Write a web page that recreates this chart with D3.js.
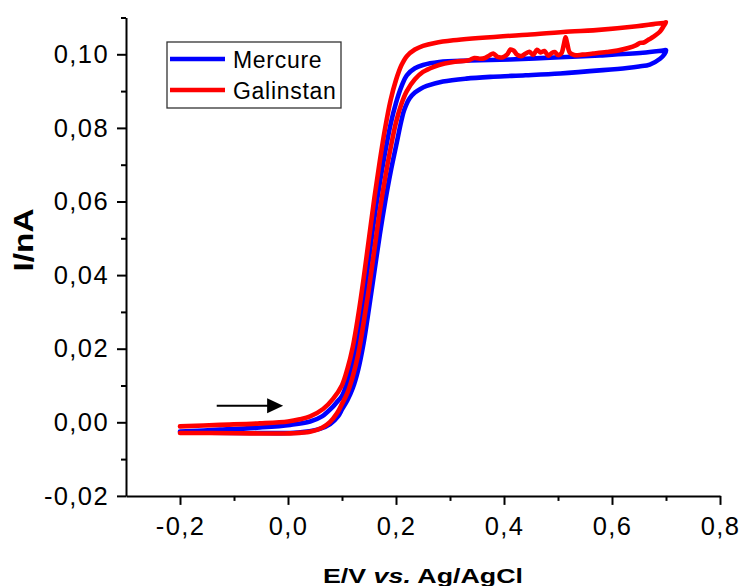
<!DOCTYPE html>
<html>
<head>
<meta charset="utf-8">
<script src="https://cdn.jsdelivr.net/npm/d3@7"></script>
<style>
  html, body { margin: 0; padding: 0; background: #fff; }
  svg { display: block; }
  text { font-family: "Liberation Sans", Arial, sans-serif; fill: #000; }
</style>
</head>
<body>
<svg id="chart" width="742" height="586"></svg>
<script>
// ---------- data (E in V, I in nA) ----------
const mercureForward = [
  [-0.200,-0.0025],[-0.126,-0.0020],[-0.052,-0.0014],[0.004,-0.0007],[0.041,0.0002],
  [0.063,0.0016],[0.081,0.0039],[0.090,0.0054],[0.100,0.0072],[0.110,0.0110],[0.120,0.0160],
  [0.130,0.0235],[0.140,0.0335],[0.150,0.0445],[0.160,0.0555],[0.170,0.0650],
  [0.180,0.0735],[0.190,0.0810],[0.200,0.0868],[0.210,0.0912],[0.220,0.0943],
  [0.235,0.0962],[0.250,0.0971],[0.280,0.0979],[0.337,0.0983],[0.411,0.0986],
  [0.504,0.0992],[0.578,0.0997],[0.657,0.1004],[0.694,0.1010],[0.700,0.1011]
];
const mercureReverse = [
  [0.700,0.1011],[0.697,0.1000],[0.689,0.0988],[0.670,0.0972],[0.650,0.0967],
  [0.628,0.0963],[0.583,0.0957],[0.504,0.0948],[0.440,0.0943],[0.380,0.0939],
  [0.330,0.0934],[0.287,0.0926],[0.257,0.0914],[0.245,0.0906],[0.235,0.0896],
  [0.225,0.0880],[0.215,0.0848],[0.210,0.0820],[0.200,0.0750],[0.190,0.0680],
  [0.180,0.0600],[0.170,0.0510],[0.160,0.0410],[0.150,0.0310],[0.140,0.0215],
  [0.130,0.0143],[0.120,0.0093],[0.110,0.0060],[0.100,0.0035],[0.093,0.0017],
  [0.078,-0.0005],[0.059,-0.0018],[0.031,-0.0026],[0.004,-0.0029],[-0.070,-0.0029],
  [-0.144,-0.0028],[-0.200,-0.0026]
];
const galinstanForward = [
  [-0.200,-0.0011],[-0.126,-0.0007],[-0.052,-0.0003],[0.000,0.0002],[0.022,0.0008],
  [0.041,0.0016],[0.065,0.0036],[0.083,0.0063],[0.100,0.0101],[0.110,0.0145],
  [0.120,0.0205],[0.130,0.0290],[0.140,0.0390],[0.150,0.0500],[0.160,0.0610],
  [0.170,0.0710],[0.180,0.0800],[0.190,0.0875],[0.200,0.0930],[0.210,0.0970],
  [0.220,0.0995],[0.235,0.1013],[0.250,0.1023],[0.272,0.1031],[0.306,0.1038],
  [0.398,0.1049],[0.443,0.1053],[0.522,0.1062],[0.565,0.1065],[0.646,0.1076],
  [0.677,0.1082],[0.698,0.1086],[0.700,0.1087]
];
const galinstanReverse = [
  [0.700,0.1087],[0.695,0.1075],[0.689,0.1062],[0.677,0.1048],[0.668,0.1040],
  [0.659,0.1032],[0.652,0.1031],[0.645,0.1025],[0.630,0.1017],[0.610,0.1010],
  [0.590,0.1006],[0.565,0.1002],[0.545,0.0999],[0.530,0.0998],[0.522,0.1004],
  [0.517,0.1030],[0.514,0.1046],[0.511,0.1028],[0.506,0.1002],[0.500,0.0998],
  [0.494,0.1006],[0.488,0.1003],[0.482,0.0996],[0.475,0.1009],[0.468,0.1005],
  [0.461,0.1012],[0.454,0.0998],[0.447,0.1007],[0.440,0.1002],[0.432,0.0995],
  [0.424,0.0999],[0.418,0.1010],[0.412,0.1013],[0.406,0.1000],[0.398,0.0992],
  [0.388,0.0993],[0.380,0.1002],[0.373,0.0997],[0.365,0.0990],[0.355,0.0988],
  [0.345,0.0990],[0.335,0.0984],[0.310,0.0980],[0.290,0.0975],[0.270,0.0966],
  [0.250,0.0952],[0.235,0.0932],[0.220,0.0900],[0.210,0.0865],[0.200,0.0815],
  [0.190,0.0745],[0.180,0.0665],[0.170,0.0575],[0.160,0.0470],[0.150,0.0365],
  [0.140,0.0270],[0.130,0.0185],[0.120,0.0125],[0.110,0.0080],[0.100,0.0050],
  [0.091,0.0025],[0.078,0.0001],[0.063,-0.0015],[0.041,-0.0026],[0.004,-0.0030],
  [-0.070,-0.0030],[-0.144,-0.0029],[-0.200,-0.0029]
];
const seriesNames = ["Mercure", "Galinstan"];
const seriesColors = ["#0000ff", "#ff0000"];

const xDomain = [-0.3, 0.8];
const yDomain = [-0.02, 0.11];
const xMajorTicks = [-0.2, 0.0, 0.2, 0.4, 0.6, 0.8];
const xMinorTicks = [-0.1, 0.1, 0.3, 0.5, 0.7];
const yMajorTicks = [-0.02, 0.00, 0.02, 0.04, 0.06, 0.08, 0.10];
const yMinorTicks = [-0.01, 0.01, 0.03, 0.05, 0.07, 0.09, 0.11];
const arrowFrom = [-0.132, 0.0045];
const arrowTo = [-0.009, 0.0045];

// ---------- drawing ----------
const svg = d3.select("#chart");
svg.append("rect").attr("width", 742).attr("height", 586).attr("fill", "#fff");

const x = d3.scaleLinear().domain(xDomain).range([126, 720]);
const y = d3.scaleLinear().domain(yDomain).range([495.9, 17.5]);

const fmtX = d => d3.format(".1f")(d).replace(".", ",").replace("−", "-");
const fmtY = d => d3.format(".2f")(d).replace(".", ",").replace("−", "-");

// curves
const line = d3.line().x(d => x(d[0])).y(d => y(d[1])).curve(d3.curveCatmullRom.alpha(0.5));
const loops = [
  mercureForward.concat(mercureReverse.slice(1)),
  galinstanForward.concat(galinstanReverse.slice(1))
];
loops.forEach((pts, i) => {
  svg.append("path")
    .attr("d", line(pts))
    .attr("fill", "none")
    .attr("stroke", seriesColors[i])
    .attr("stroke-width", 4.6)
    .attr("stroke-linejoin", "round")
    .attr("stroke-linecap", "round");
});

// axes
const xAxisG = svg.append("g").attr("transform", `translate(0,${y(yDomain[0])})`);
xAxisG.call(d3.axisBottom(x).tickValues(xMajorTicks).tickSize(9).tickSizeOuter(0).tickPadding(12).tickFormat(fmtX));
const xMinorG = svg.append("g").attr("transform", `translate(0,${y(yDomain[0])})`);
xMinorG.call(d3.axisBottom(x).tickValues(xMinorTicks).tickSize(5).tickFormat(""));
xMinorG.select(".domain").remove();

const yAxisG = svg.append("g").attr("transform", `translate(${x(xDomain[0])},0)`);
yAxisG.call(d3.axisLeft(y).tickValues(yMajorTicks).tickSize(9).tickSizeOuter(0).tickPadding(8).tickFormat(fmtY));
const yMinorG = svg.append("g").attr("transform", `translate(${x(xDomain[0])},0)`);
yMinorG.call(d3.axisLeft(y).tickValues(yMinorTicks).tickSize(5).tickFormat(""));
yMinorG.select(".domain").remove();

svg.selectAll(".domain").attr("stroke", "#000").attr("stroke-width", 2);
svg.selectAll(".tick line").attr("stroke", "#000").attr("stroke-width", 2);
svg.selectAll(".tick text")
  .attr("font-family", "'Liberation Sans', Arial, sans-serif")
  .attr("font-size", 25.5)
  .attr("letter-spacing", "1.4px")
  .attr("fill", "#000");

// axis titles
const xt = svg.append("text")
  .attr("x", 423).attr("y", 582.5)
  .attr("text-anchor", "middle")
  .attr("font-size", 19.5).attr("font-weight", "bold")
  .attr("textLength", 200).attr("lengthAdjust", "spacingAndGlyphs");
xt.append("tspan").text("E/V ");
xt.append("tspan").attr("font-style", "italic").text("vs.");
xt.append("tspan").text(" Ag/AgCl");

svg.append("text")
  .attr("transform", "translate(33,240) rotate(-90)")
  .attr("text-anchor", "middle")
  .attr("font-size", 27).attr("font-weight", "bold")
  .attr("textLength", 63).attr("lengthAdjust", "spacingAndGlyphs")
  .text("I/nA");

// arrow annotation
const ax0 = x(arrowFrom[0]), ax1 = x(arrowTo[0]), ay = y(arrowFrom[1]);
svg.append("line")
  .attr("x1", ax0).attr("x2", ax1 - 14).attr("y1", ay).attr("y2", ay)
  .attr("stroke", "#000").attr("stroke-width", 2);
svg.append("path")
  .attr("d", `M${ax1},${ay} L${ax1 - 16},${ay - 7.5} L${ax1 - 16},${ay + 7.5} Z`)
  .attr("fill", "#000");

// legend
const lg = svg.append("g");
lg.append("rect")
  .attr("x", 167).attr("y", 42).attr("width", 174).attr("height", 66)
  .attr("fill", "#fff").attr("stroke", "#333").attr("stroke-width", 1.3);
seriesNames.forEach((name, i) => {
  const ly = 59 + i * 31;
  lg.append("line")
    .attr("x1", 170).attr("x2", 225).attr("y1", ly).attr("y2", ly)
    .attr("stroke", seriesColors[i]).attr("stroke-width", 4.5);
  lg.append("text")
    .attr("x", 233).attr("y", ly + 9.3)
    .attr("font-size", 23).attr("letter-spacing", "0.7px")
    .text(name);
});
</script>
</body>
</html>
